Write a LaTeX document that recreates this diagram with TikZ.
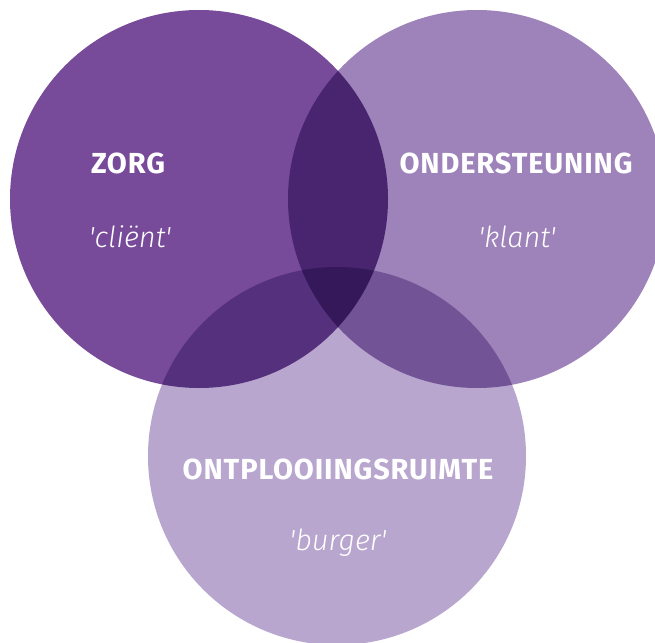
\documentclass[tikz,border=0pt]{standalone}
\usepackage{fontspec}
\setmainfont{Fira Sans}
\newfontfamily\titelfont[LetterSpace=3]{Fira Sans Bold}
\newfontfamily\quotefont[Ligatures=ResetAll]{Fira Sans Light Italic}
\usepackage{tikz}
\definecolor{zorgpaars}{HTML}{774A9A}
\definecolor{steunpaars}{HTML}{9E82BA}
\definecolor{ruimtepaars}{HTML}{B8A6CF}

\begin{document}
\begin{tikzpicture}[x=1pt,y=-1pt]
\tikzstyle{titel}=[text=white,font=\fontsize{29}{32}\selectfont\titelfont];
\tikzstyle{rol}=[text=white,font=\fontsize{29}{32}\selectfont\quotefont];
\useasboundingbox (0,0) rectangle (655,642);
\clip (0,0) rectangle (655,642);
\fill[white] (0,0) rectangle (655,642);
\begin{scope}[blend mode=multiply]
\fill[zorgpaars] (199,199) circle[radius=189];
\fill[steunpaars] (477,199) circle[radius=189];
\fill[ruimtepaars] (337,456) circle[radius=189];
\end{scope}
\path (128,163) node[titel] (zorg) {ZORG};
\path (130,237) node[rol] (client) {'cliënt'};
\path (516,163) node[titel] (steun) {ONDERSTEUNING};
\path (517,237) node[rol] (klant) {'klant'};
\path (338,469) node[titel] (ruimte) {ONTPLOOIINGSRUIMTE};
\path (338,543) node[rol] (burger) {'burger'};
\end{tikzpicture}
\end{document}
